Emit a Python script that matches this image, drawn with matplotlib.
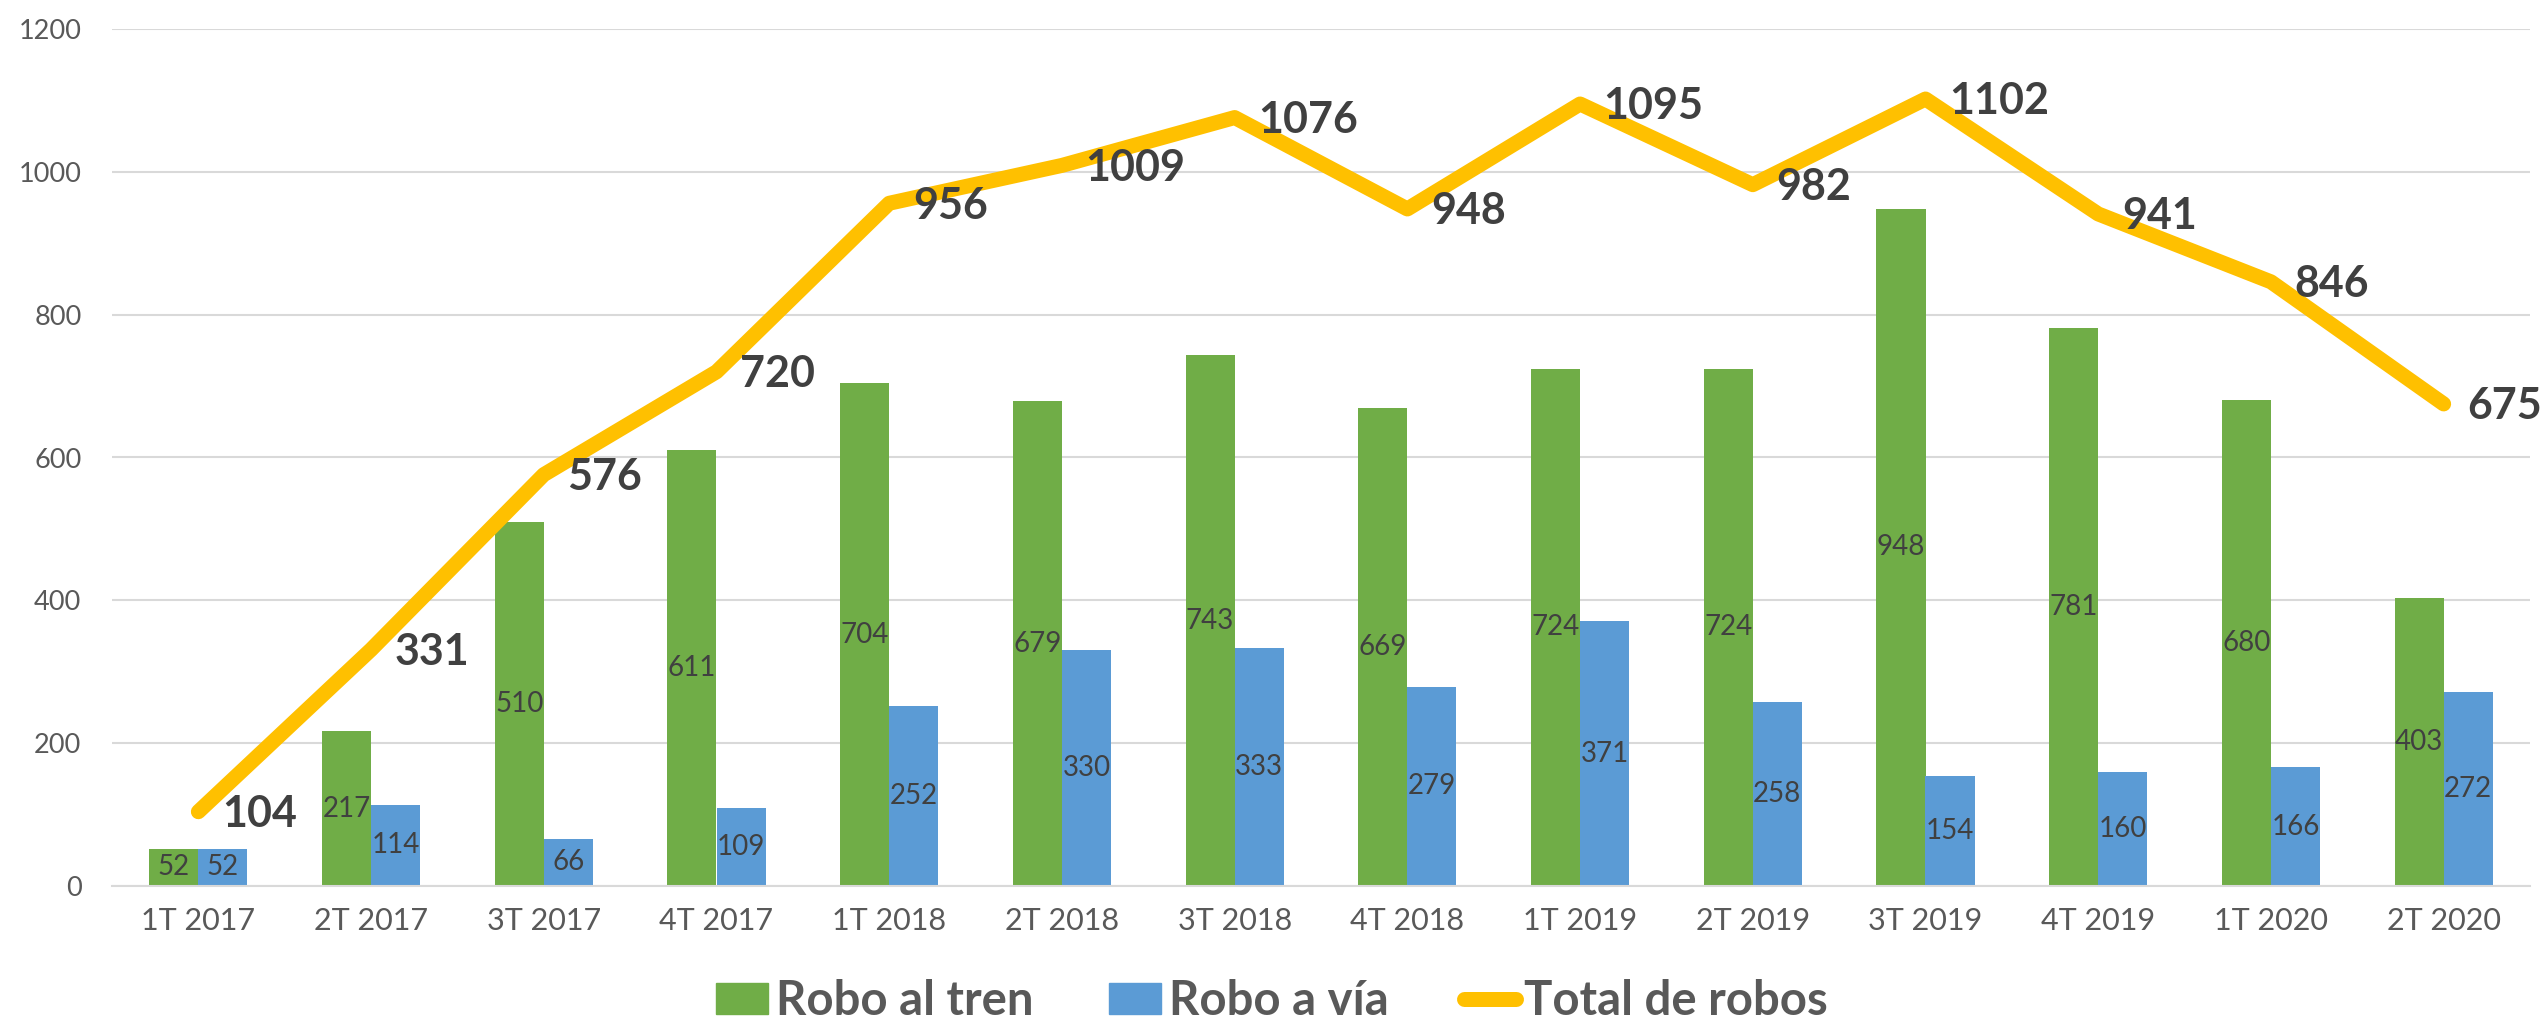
import numpy as np
import matplotlib
matplotlib.use("Agg")
import matplotlib.pyplot as plt
from matplotlib.lines import Line2D
from matplotlib.patches import Patch

plt.rcParams['font.family'] = ['Lato', 'DejaVu Sans']

# Datos
trimestres = ['1T 2017', '2T 2017', '3T 2017', '4T 2017',
              '1T 2018', '2T 2018', '3T 2018', '4T 2018',
              '1T 2019', '2T 2019', '3T 2019', '4T 2019',
              '1T 2020', '2T 2020']
robo_tren = [52, 217, 510, 611, 704, 679, 743, 669, 724, 724, 948, 781, 680, 403]
robo_via = [52, 114, 66, 109, 252, 330, 333, 279, 371, 258, 154, 160, 166, 272]
total_robos = [104, 331, 576, 720, 956, 1009, 1076, 948, 1095, 982, 1102, 941, 846, 675]

verde = '#70AD47'
azul = '#5B9BD5'
amarillo = '#FFC000'
gris_texto = '#404040'
gris_ejes = '#595959'
gris_grid = '#D9D9D9'

fig = plt.figure(figsize=(25.44, 10.22), dpi=100)
ax = fig.add_axes([112 / 2544, 1 - 886 / 1022, (2530 - 112) / 2544, (886 - 29) / 1022])

x = np.arange(len(trimestres))
ancho = 0.284

b1 = ax.bar(x - ancho / 2, robo_tren, ancho, color=verde, zorder=2)
b2 = ax.bar(x + ancho / 2, robo_via, ancho, color=azul, zorder=2)
ax.bar_label(b1, label_type='center', fontsize=20, color=gris_texto)
ax.bar_label(b2, label_type='center', fontsize=20, color=gris_texto)

# linea del total con etiquetas a la derecha de cada punto
ax.plot(x, total_robos, color=amarillo, linewidth=10.8,
        solid_capstyle='round', solid_joinstyle='round', zorder=3)
for i, v in enumerate(total_robos):
    ax.annotate(str(v), (i, v), xytext=(17, -11), textcoords='offset points',
                ha='left', va='baseline', fontsize=31, fontweight='bold',
                color=gris_texto, zorder=4, annotation_clip=False)

ax.set_xlim(-0.5, len(trimestres) - 0.5)
ax.set_ylim(0, 1200)
ax.set_yticks(range(0, 1201, 200))
ax.set_xticks(x)
ax.set_xticklabels(trimestres)
ax.tick_params(axis='x', length=0, pad=15, labelsize=22, labelcolor=gris_ejes)
ax.tick_params(axis='y', length=0, pad=22, labelsize=19.5, labelcolor=gris_ejes)

ax.grid(axis='y', color=gris_grid, linewidth=1.5, zorder=0)
ax.set_axisbelow(True)
for s in ['top', 'right', 'left']:
    ax.spines[s].set_visible(False)
ax.spines['bottom'].set_color(gris_grid)
ax.spines['bottom'].set_linewidth(1.5)

handles = [Patch(color=verde, label='Robo al tren'),
           Patch(color=azul, label='Robo a vía'),
           Line2D([0], [0], color=amarillo, linewidth=10.8,
                  solid_capstyle='round', label='Total de robos')]
leg = fig.legend(handles=handles, loc='center', bbox_to_anchor=(0.5, 1 - 1001 / 1022),
                 ncol=3, frameon=False, prop={'size': 34, 'weight': 'bold'},
                 handlelength=1.1, handleheight=0.62, handletextpad=0.17,
                 columnspacing=1.6, borderpad=0, borderaxespad=0)
for t in leg.get_texts():
    t.set_color(gris_ejes)

fig.savefig('out.png', dpi=100)
